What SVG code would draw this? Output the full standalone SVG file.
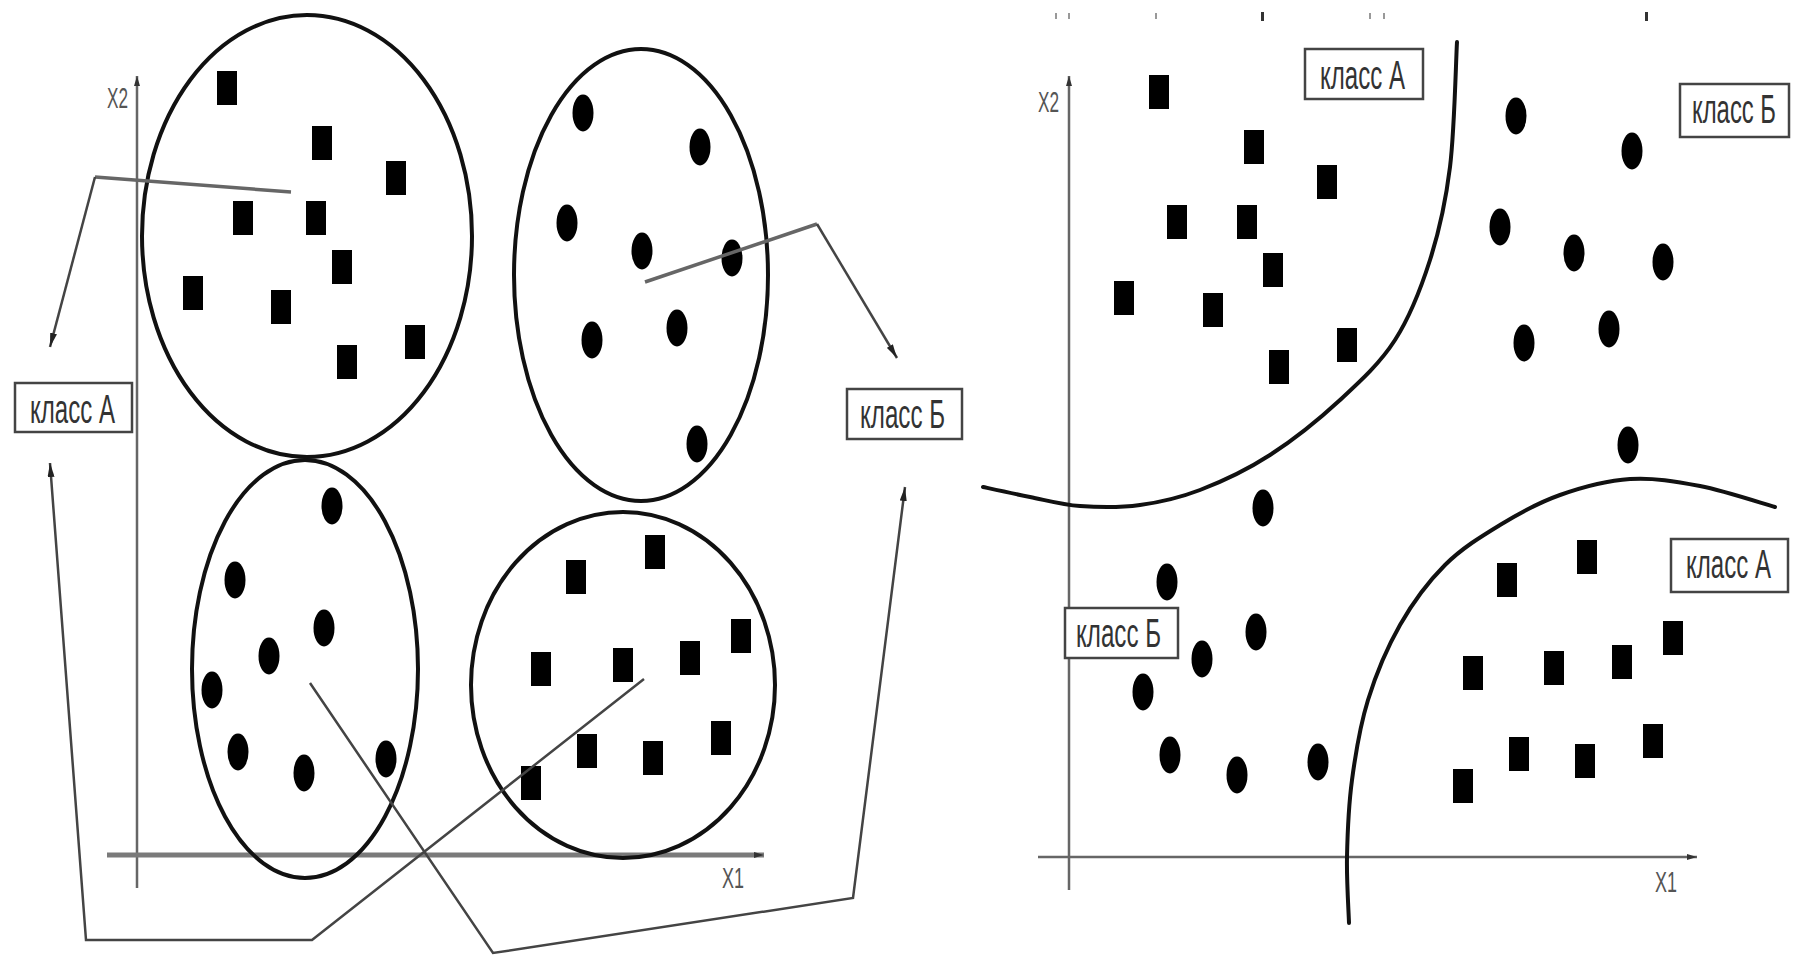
<svg xmlns="http://www.w3.org/2000/svg" xmlns:xlink="http://www.w3.org/1999/xlink" width="1793" height="957" viewBox="0 0 1793 957">
  <style>
    .cluster { fill: none; stroke: #111; stroke-width: 4; }
    .border { fill: none; stroke: #111; stroke-width: 4; stroke-linecap: round; }
    .axis { stroke: #666; stroke-width: 2.5; fill: none; }
    .axis-thick { stroke: #7a7a7a; stroke-width: 5; fill: none; }
    .link { stroke: #444; stroke-width: 2.5; fill: none; stroke-linejoin: miter; }
    .link-soft { stroke: #666; stroke-width: 3.5; fill: none; }
    .box { fill: #fff; stroke: #444; stroke-width: 2.5; }
    .lbl { font-family: "Liberation Sans", Arial, sans-serif; font-size: 40px; fill: #333; }
    .ax { font-family: "Liberation Sans", Arial, sans-serif; font-size: 30px; fill: #555; }
    .pt { fill: #000; }
    .speck { fill: #999; }
  </style>
  <defs>
    <rect id="sq" x="-10" y="-17" width="20" height="34" class="pt"/>
    <ellipse id="dot" rx="10.5" ry="18.5" class="pt"/>
    <marker id="arrow" viewBox="0 0 14 7" refX="14" refY="3.5" markerWidth="14" markerHeight="7" markerUnits="userSpaceOnUse" orient="auto">
      <path d="M0,0 L14,3.5 L0,7 z" fill="#222"/>
    </marker>
    <marker id="axhead" viewBox="0 0 10 6" refX="10" refY="3" markerWidth="10" markerHeight="6" markerUnits="userSpaceOnUse" orient="auto">
      <path d="M0,0 L10,3 L0,6 z" fill="#333"/>
    </marker>
  </defs>
  <rect width="1793" height="957" fill="#fff"/>

  <!-- left panel: coordinate axes -->
  <g id="left-axes">
    <line class="axis" x1="137" y1="888" x2="137" y2="76" marker-end="url(#axhead)"/>
    <line class="axis-thick" x1="107" y1="855" x2="764" y2="855" marker-end="url(#axhead)"/>
    <text class="ax" x="107" y="108" textLength="21" lengthAdjust="spacingAndGlyphs">X2</text>
    <text class="ax" x="722" y="888" textLength="22" lengthAdjust="spacingAndGlyphs">X1</text>
  </g>

  <!-- left panel: clusters -->
  <g id="cluster-a1">
    <ellipse class="cluster" cx="307" cy="236" rx="165" ry="221"/>
    <use href="#sq" x="227" y="88"/>
    <use href="#sq" x="322" y="143"/>
    <use href="#sq" x="396" y="178"/>
    <use href="#sq" x="243" y="218"/>
    <use href="#sq" x="316" y="218"/>
    <use href="#sq" x="342" y="267"/>
    <use href="#sq" x="193" y="293"/>
    <use href="#sq" x="281" y="307"/>
    <use href="#sq" x="415" y="342"/>
    <use href="#sq" x="347" y="362"/>
  </g>
  <g id="cluster-b1">
    <ellipse class="cluster" cx="641" cy="275" rx="127" ry="226"/>
    <use href="#dot" x="583" y="113"/>
    <use href="#dot" x="700" y="147"/>
    <use href="#dot" x="567" y="223"/>
    <use href="#dot" x="642" y="251"/>
    <use href="#dot" x="732" y="258"/>
    <use href="#dot" x="592" y="340"/>
    <use href="#dot" x="677" y="328"/>
    <use href="#dot" x="697" y="444"/>
  </g>
  <g id="cluster-b2">
    <ellipse class="cluster" cx="305" cy="669" rx="113" ry="209"/>
    <use href="#dot" x="332" y="506"/>
    <use href="#dot" x="235" y="580"/>
    <use href="#dot" x="324" y="628"/>
    <use href="#dot" x="269" y="656"/>
    <use href="#dot" x="212" y="690"/>
    <use href="#dot" x="238" y="752"/>
    <use href="#dot" x="304" y="773"/>
    <use href="#dot" x="386" y="759"/>
  </g>
  <g id="cluster-a2">
    <ellipse class="cluster" cx="623" cy="685" rx="152" ry="173"/>
    <use href="#sq" x="576" y="577"/>
    <use href="#sq" x="655" y="552"/>
    <use href="#sq" x="541" y="669"/>
    <use href="#sq" x="623" y="665"/>
    <use href="#sq" x="690" y="658"/>
    <use href="#sq" x="741" y="636"/>
    <use href="#sq" x="587" y="751"/>
    <use href="#sq" x="653" y="758"/>
    <use href="#sq" x="721" y="738"/>
    <use href="#sq" x="531" y="783"/>
  </g>

  <!-- left panel: class labels (condensed lettering via horizontal scale) -->
  <g id="label-left-a">
    <rect class="box" x="15" y="383" width="117" height="49"/>
    <text class="lbl" transform="translate(30,423) scale(0.6,1)" textLength="141.7" lengthAdjust="spacingAndGlyphs">класс А</text>
  </g>
  <g id="label-left-b">
    <rect class="box" x="847" y="389" width="115" height="50"/>
    <text class="lbl" transform="translate(860,428) scale(0.6,1)" textLength="141.7" lengthAdjust="spacingAndGlyphs">класс Б</text>
  </g>

  <!-- connectors from clusters to class labels -->
  <g id="connectors">
    <path class="link-soft" d="M291,192 L95,177"/>
    <path class="link" d="M95,177 L50,347" marker-end="url(#arrow)"/>
    <path class="link" d="M644,679 L312,940 L86,940 L50,463" marker-end="url(#arrow)"/>
    <path class="link" d="M310,683 L493,953 L853,898 L905,487" marker-end="url(#arrow)"/>
    <path class="link-soft" d="M645,282 L817,224"/>
    <path class="link" d="M817,224 L897,358" marker-end="url(#arrow)"/>
  </g>

  <!-- right panel: coordinate axes -->
  <g id="right-axes">
    <line class="axis" x1="1069" y1="890" x2="1069" y2="76" marker-end="url(#axhead)"/>
    <line class="axis" x1="1038" y1="857" x2="1697" y2="857" marker-end="url(#axhead)"/>
    <text class="ax" x="1038" y="112" textLength="21" lengthAdjust="spacingAndGlyphs">X2</text>
    <text class="ax" x="1655" y="892" textLength="22" lengthAdjust="spacingAndGlyphs">X1</text>
    <rect class="speck" x="1055" y="13" width="2" height="6"/>
    <rect class="speck" x="1068" y="13" width="2" height="6"/>
    <rect class="speck" x="1155" y="13" width="2" height="6"/>
    <rect x="1261" y="12" width="3" height="9" fill="#333"/>
    <rect class="speck" x="1369" y="13" width="2" height="6"/>
    <rect class="speck" x="1383" y="13" width="2" height="6"/>
    <rect x="1645" y="12" width="3" height="9" fill="#333"/>
  </g>

  <!-- right panel: separating borders -->
  <g id="border-upper">
    <path class="border" d="M1457,42 C1455.8,62.8 1454.5,130.7 1450,167 C1445.5,203.3 1439.2,231.2 1430,260 C1420.8,288.8 1410,316.7 1395,340 C1380,363.3 1360.8,380.8 1340,400 C1319.2,419.2 1293.3,440 1270,455 C1246.7,470 1221.7,481.7 1200,490 C1178.3,498.3 1160,502.3 1140,505 C1120,507.7 1098.3,507.3 1080,506 C1061.7,504.7 1046.2,500.2 1030,497 C1013.8,493.8 990.8,488.7 983,487"/>
  </g>
  <g id="border-lower">
    <path class="border" d="M1349,923 C1348.7,912 1346.5,880.8 1347,857 C1347.5,833.2 1348.5,806.2 1352,780 C1355.5,753.8 1360,725.8 1368,700 C1376,674.2 1387.2,647.5 1400,625 C1412.8,602.5 1428.3,581.7 1445,565 C1461.7,548.3 1480.8,536.7 1500,525 C1519.2,513.3 1538.3,502.7 1560,495 C1581.7,487.3 1606.7,480.5 1630,479 C1653.3,477.5 1675.8,481.3 1700,486 C1724.2,490.7 1762.5,503.5 1775,507"/>
  </g>

  <!-- right panel: point groups -->
  <g id="points-a-upper">
    <use href="#sq" x="1159" y="92"/>
    <use href="#sq" x="1254" y="147"/>
    <use href="#sq" x="1327" y="182"/>
    <use href="#sq" x="1177" y="222"/>
    <use href="#sq" x="1247" y="222"/>
    <use href="#sq" x="1273" y="270"/>
    <use href="#sq" x="1124" y="298"/>
    <use href="#sq" x="1213" y="310"/>
    <use href="#sq" x="1347" y="345"/>
    <use href="#sq" x="1279" y="367"/>
  </g>
  <g id="points-b-upper">
    <use href="#dot" x="1516" y="116"/>
    <use href="#dot" x="1632" y="151"/>
    <use href="#dot" x="1500" y="227"/>
    <use href="#dot" x="1574" y="253"/>
    <use href="#dot" x="1663" y="262"/>
    <use href="#dot" x="1524" y="343"/>
    <use href="#dot" x="1609" y="329"/>
    <use href="#dot" x="1628" y="445"/>
  </g>
  <g id="points-b-lower">
    <use href="#dot" x="1263" y="508"/>
    <use href="#dot" x="1167" y="582"/>
    <use href="#dot" x="1256" y="632"/>
    <use href="#dot" x="1202" y="659"/>
    <use href="#dot" x="1143" y="692"/>
    <use href="#dot" x="1170" y="755"/>
    <use href="#dot" x="1237" y="775"/>
    <use href="#dot" x="1318" y="762"/>
  </g>
  <g id="points-a-lower">
    <use href="#sq" x="1507" y="580"/>
    <use href="#sq" x="1587" y="557"/>
    <use href="#sq" x="1473" y="673"/>
    <use href="#sq" x="1554" y="668"/>
    <use href="#sq" x="1622" y="662"/>
    <use href="#sq" x="1673" y="638"/>
    <use href="#sq" x="1519" y="754"/>
    <use href="#sq" x="1585" y="761"/>
    <use href="#sq" x="1653" y="741"/>
    <use href="#sq" x="1463" y="786"/>
  </g>

  <!-- right panel: class labels -->
  <g id="label-right-a-top">
    <rect class="box" x="1305" y="49" width="118" height="50"/>
    <text class="lbl" transform="translate(1320,89) scale(0.6,1)" textLength="141.7" lengthAdjust="spacingAndGlyphs">класс А</text>
  </g>
  <g id="label-right-b-top">
    <rect class="box" x="1680" y="84" width="109" height="53"/>
    <text class="lbl" transform="translate(1692,123) scale(0.6,1)" textLength="140" lengthAdjust="spacingAndGlyphs">класс Б</text>
  </g>
  <g id="label-right-a-bottom">
    <rect class="box" x="1671" y="539" width="117" height="53"/>
    <text class="lbl" transform="translate(1686,578) scale(0.6,1)" textLength="141.7" lengthAdjust="spacingAndGlyphs">класс А</text>
  </g>
  <g id="label-right-b-bottom">
    <rect class="box" x="1065" y="608" width="113" height="50"/>
    <text class="lbl" transform="translate(1076,647) scale(0.6,1)" textLength="141.7" lengthAdjust="spacingAndGlyphs">класс Б</text>
  </g>
</svg>
